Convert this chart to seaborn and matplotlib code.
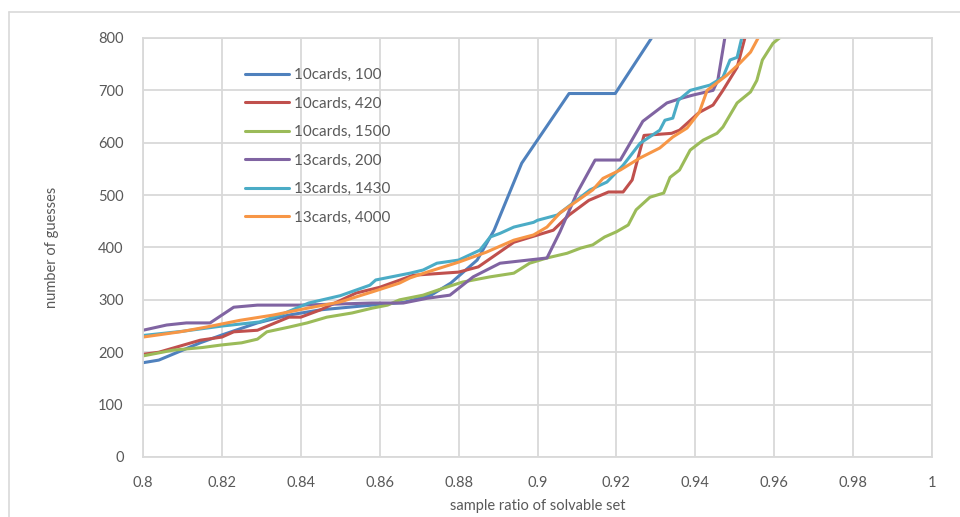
import pandas as pd
import numpy as np
import seaborn as sns
import matplotlib.pyplot as plt
from matplotlib.lines import Line2D
from matplotlib.ticker import FuncFormatter

labels = ['10cards, 100', '10cards, 420', '10cards, 1500', '13cards, 200', '13cards, 1430', '13cards, 4000']
colors = ['#4F81BD', '#C0504D', '#9BBB59', '#8064A2', '#4BACC6', '#F79646']

blue_x = [0.8, 0.804, 0.8145, 0.820, 0.829, 0.837, 0.845, 0.858, 0.866, 0.873, 0.878, 0.8847, 0.889, 0.896, 0.908, 0.9197, 0.929]
blue_y = [180, 185, 218, 233, 256, 271, 281, 290, 295, 309, 332, 376, 433, 561, 694, 694, 801]

red_x = [0.8, 0.804, 0.8145, 0.820, 0.823, 0.829, 0.837, 0.840, 0.845, 0.854, 0.860, 0.8685, 0.880, 0.885, 0.894, 0.904,
         0.908, 0.913, 0.918, 0.9217, 0.924, 0.927, 0.934, 0.936, 0.941, 0.9445, 0.947, 0.9506, 0.9526]
red_y = [196, 200, 223, 229, 239, 242, 267, 267, 281, 313, 324, 347, 353, 363, 410, 433,
         462, 490, 506, 506, 529, 614, 618, 624, 658, 672, 700, 744, 801]

green_x = [0.8, 0.8076, 0.815, 0.820, 0.825, 0.829, 0.8314, 0.837, 0.8416, 0.8466, 0.853, 0.858, 0.862, 0.865, 0.871,
           0.876, 0.881, 0.888, 0.894, 0.898, 0.9024, 0.9075, 0.911, 0.914, 0.917, 0.920, 0.923, 0.925, 0.9285, 0.932,
           0.9336, 0.936, 0.9387, 0.942, 0.9455, 0.947, 0.9506, 0.954, 0.9556, 0.957, 0.9597, 0.9615]
green_y = [193, 204, 209, 214, 218, 225, 239, 248, 256, 267, 275, 284, 290, 300, 309,
           322, 334, 344, 351, 370, 380, 389, 399, 405, 420, 430, 443, 472, 496, 504,
           534, 548, 586, 605, 618, 630, 676, 697, 719, 758, 790, 801]

purple_x = [0.8, 0.806, 0.811, 0.817, 0.823, 0.829, 0.84, 0.858, 0.866, 0.872, 0.8778, 0.8837, 0.8905, 0.9024, 0.9057,
            0.910, 0.9146, 0.921, 0.9267, 0.9328, 0.936, 0.9394, 0.9445, 0.9457, 0.9475]
purple_y = [242, 252, 256, 256, 286, 290, 290, 294, 294, 303, 309, 344, 370, 380, 430,
            504, 567, 567, 641, 676, 684, 691, 700, 719, 801]

cyan_x = [0.8, 0.81, 0.82, 0.8297, 0.836, 0.842, 0.850, 0.8575, 0.859, 0.8677, 0.871, 0.8745, 0.880, 0.8854, 0.888,
          0.8905, 0.894, 0.899, 0.9, 0.905, 0.909, 0.9133, 0.9176, 0.9217, 0.926, 0.931, 0.9323, 0.9343, 0.9357, 0.9387,
          0.9437, 0.947, 0.9488, 0.9506, 0.9518]
cyan_y = [232, 240, 250, 258, 275, 294, 308, 328, 338, 351, 357, 370, 376, 395, 420,
          427, 439, 448, 452, 462, 485, 510, 525, 557, 599, 624, 643, 647, 681, 700,
          710, 725, 758, 763, 801]

orange_x = [0.8, 0.8094, 0.816, 0.8246, 0.833, 0.8416, 0.85, 0.855, 0.858, 0.865, 0.8677, 0.872, 0.880, 0.887, 0.894,
            0.899, 0.9024, 0.9057, 0.914, 0.9166, 0.921, 0.926, 0.931, 0.9343, 0.9379, 0.941, 0.943, 0.948, 0.9513, 0.954, 0.956]
orange_y = [229, 239, 248, 261, 271, 284, 296, 308, 315, 332, 342, 353, 372, 391, 414,
            424, 439, 466, 510, 532, 548, 571, 590, 611, 628, 658, 700, 729, 752, 773, 801]

xs = [blue_x, red_x, green_x, purple_x, cyan_x, orange_x]
ys = [blue_y, red_y, green_y, purple_y, cyan_y, orange_y]

frames = []
for lab, x, y in zip(labels, xs, ys):
    frames.append(pd.DataFrame({'ratio': x, 'guesses': y, 'series': lab}))
df = pd.concat(frames, ignore_index=True)

sns.set_style('white')
plt.rcParams['font.family'] = ['Lato', 'DejaVu Sans']

grey = '#d9d9d9'
txt = '#595959'

fig = plt.figure(figsize=(9.6, 5.17), dpi=100)
ax = fig.add_axes([143/960, 60/517, 789/960, 419/517])

sns.lineplot(data=df, x='ratio', y='guesses', hue='series', hue_order=labels,
             palette=colors, estimator=None, sort=False, linewidth=2.2, ax=ax)

ax.set_xlim(0.8, 1.0)
ax.set_ylim(0, 800)
ax.set_xticks(np.arange(0.8, 1.001, 0.02))
ax.set_yticks(range(0, 801, 100))
ax.xaxis.set_major_formatter(FuncFormatter(lambda v, p: '%g' % round(v, 2)))
ax.grid(True, color=grey, linewidth=1.3)
ax.set_axisbelow(True)
for s in ax.spines.values():
    s.set_color(grey)
    s.set_linewidth(1.3)
ax.tick_params(length=0, labelsize=10.5, labelcolor=txt)
ax.tick_params(axis='y', pad=14)
ax.tick_params(axis='x', pad=14)
ax.set_xlabel('sample ratio of solvable set', fontsize=10.5, color=txt, labelpad=6)
ax.set_ylabel('number of guesses', fontsize=10.5, color=txt, labelpad=28)

leg = ax.legend(loc='upper left', bbox_to_anchor=(0.129, 0.928), frameon=False,
                borderpad=0, borderaxespad=0, handlelength=2.9, handletextpad=0.35,
                labelspacing=0.95, fontsize=11)
for t in leg.get_texts():
    t.set_color(txt)

# chart frame
fig.add_artist(Line2D([9/960, 9/960], [0, 1 - 12/517], color=grey, linewidth=1.2))
fig.add_artist(Line2D([9/960, 1], [1 - 12/517, 1 - 12/517], color=grey, linewidth=1.2))

fig.savefig('out.png', dpi=100)
